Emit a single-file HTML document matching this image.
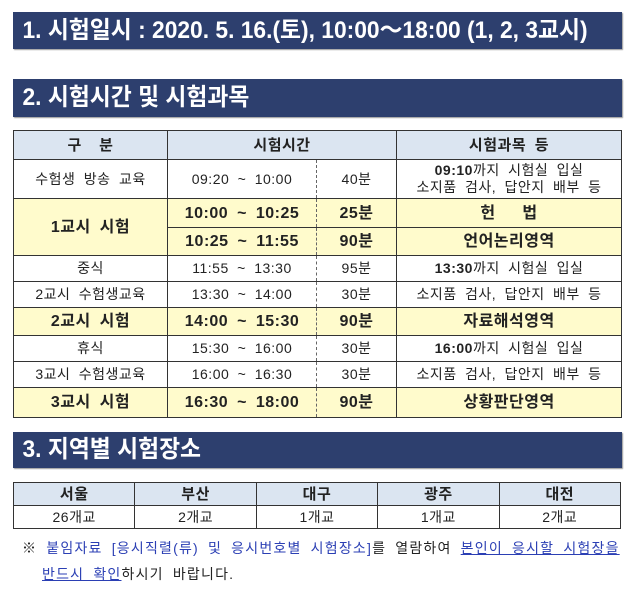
<!DOCTYPE html>
<html><head><meta charset="utf-8"><style>
*{margin:0;padding:0;box-sizing:border-box}
body{width:640px;height:592px;background:#fff;position:relative;font-family:"Liberation Sans","Noto Sans CJK KR",sans-serif;color:#222;overflow:hidden}
.ban{position:absolute;left:13px;width:609px;background:#2d3f6e;color:#fff;font-weight:bold;font-size:24px;white-space:nowrap;box-shadow:1px 1px 1px #999}
.ban span{display:inline-block;transform:scaleX(0.95);transform-origin:left center;padding-left:10px}
table{position:absolute;border-collapse:collapse;left:13px;width:608px;table-layout:fixed}
td{border:1px solid #333;text-align:center;font-size:14px;padding:0;line-height:17px;letter-spacing:0.5px;word-spacing:4px;white-space:nowrap}
.h td{background:#dbe5f1;font-weight:bold;font-size:15px}
.y td{background:#fffbcc;font-weight:bold;font-size:16px}
.dl{border-right:1px dashed #666}
.dr{border-left:1px dashed #666}
.db td{border-bottom:1px dashed #777}
.note{position:absolute;left:22px;font-size:14px;white-space:nowrap;letter-spacing:1.2px;word-spacing:4px}
.u{color:#2b3fb4;text-decoration:underline}
.bl{color:#2b3fb4}
</style></head><body>
<div class="ban" style="top:12px;height:37px;line-height:37px"><span>1. 시험일시 : 2020. 5. 16.(토), 10:00～18:00 (1, 2, 3교시)</span></div>
<div class="ban" style="top:79px;height:38px;line-height:38px"><span>2. 시험시간 및 시험과목</span></div>
<table style="top:130px">
<colgroup><col style="width:154px"><col style="width:149px"><col style="width:80px"><col style="width:225px"></colgroup>
<tr class="h" style="height:29px"><td>구 &nbsp;분</td><td colspan="2">시험시간</td><td>시험과목 등</td></tr>
<tr style="height:39px"><td>수험생 방송 교육</td><td class="dl">09:20 ~ 10:00</td><td class="dr">40분</td><td><b>09:10</b>까지 시험실 입실<br>소지품 검사, 답안지 배부 등</td></tr>
<tr class="y db" style="height:29px"><td rowspan="2">1교시 시험</td><td class="dl">10:00 ~ 10:25</td><td class="dr">25분</td><td>헌 &nbsp;&nbsp;법</td></tr>
<tr class="y" style="height:28px"><td class="dl">10:25 ~ 11:55</td><td class="dr">90분</td><td>언어논리영역</td></tr>
<tr style="height:26px"><td>중식</td><td class="dl">11:55 ~ 13:30</td><td class="dr">95분</td><td><b>13:30</b>까지 시험실 입실</td></tr>
<tr style="height:26px"><td>2교시 수험생교육</td><td class="dl">13:30 ~ 14:00</td><td class="dr">30분</td><td>소지품 검사, 답안지 배부 등</td></tr>
<tr class="y" style="height:28px"><td>2교시 시험</td><td class="dl">14:00 ~ 15:30</td><td class="dr">90분</td><td>자료해석영역</td></tr>
<tr style="height:26px"><td>휴식</td><td class="dl">15:30 ~ 16:00</td><td class="dr">30분</td><td><b>16:00</b>까지 시험실 입실</td></tr>
<tr style="height:26px"><td>3교시 수험생교육</td><td class="dl">16:00 ~ 16:30</td><td class="dr">30분</td><td>소지품 검사, 답안지 배부 등</td></tr>
<tr class="y" style="height:30px"><td>3교시 시험</td><td class="dl">16:30 ~ 18:00</td><td class="dr">90분</td><td>상황판단영역</td></tr>
</table>
<div class="ban" style="top:432px;height:36px;line-height:36px"><span>3. 지역별 시험장소</span></div>
<table style="top:482px">
<tr class="h" style="height:23px"><td>서울</td><td>부산</td><td>대구</td><td>광주</td><td>대전</td></tr>
<tr style="height:23px"><td>26개교</td><td>2개교</td><td>1개교</td><td>1개교</td><td>2개교</td></tr>
</table>
<div class="note" style="top:538px">※ <span class="bl">붙임자료 [응시직렬(류) 및 응시번호별 시험장소]</span>를 열람하여 <span class="u">본인이 응시할 시험장을</span></div>
<div class="note" style="top:564px;left:42px"><span class="u">반드시 확인</span>하시기 바랍니다.</div>
</body></html>
